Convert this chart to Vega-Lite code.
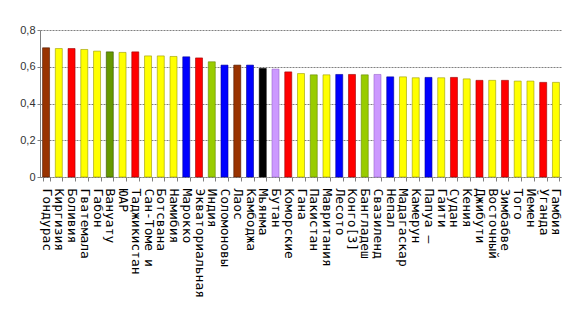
{
  "$schema": "https://vega.github.io/schema/vega-lite/v6.json",
  "width": 522,
  "height": 147,
  "autosize": "none",
  "padding": {"left": 40, "top": 30, "right": 26, "bottom": 149},
  "background": "white",
  "config": {"view": {"stroke": null}},
  "data": {"values": [
    {"country": "Гондурас", "value": 0.703, "group": "A"},
    {"country": "Киргизия", "value": 0.699, "group": "B"},
    {"country": "Боливия", "value": 0.699, "group": "C"},
    {"country": "Гватемала", "value": 0.694, "group": "B"},
    {"country": "Габон", "value": 0.685, "group": "B"},
    {"country": "Вануату", "value": 0.681, "group": "D"},
    {"country": "ЮАР", "value": 0.678, "group": "B"},
    {"country": "Таджикистан", "value": 0.681, "group": "C"},
    {"country": "Сан-Томе и", "value": 0.659, "group": "B"},
    {"country": "Ботсвана", "value": 0.659, "group": "B"},
    {"country": "Намибия", "value": 0.656, "group": "B"},
    {"country": "Марокко", "value": 0.654, "group": "E"},
    {"country": "Экваториальная", "value": 0.648, "group": "C"},
    {"country": "Индия", "value": 0.627, "group": "F"},
    {"country": "Соломоновы", "value": 0.609, "group": "E"},
    {"country": "Лаос", "value": 0.609, "group": "A"},
    {"country": "Камбоджа", "value": 0.609, "group": "E"},
    {"country": "Мьянма", "value": 0.591, "group": "G"},
    {"country": "Бутан", "value": 0.587, "group": "H"},
    {"country": "Коморские", "value": 0.572, "group": "C"},
    {"country": "Гана", "value": 0.563, "group": "B"},
    {"country": "Пакистан", "value": 0.556, "group": "F"},
    {"country": "Мавритания", "value": 0.556, "group": "B"},
    {"country": "Лесото", "value": 0.558, "group": "E"},
    {"country": "Конго[3]", "value": 0.558, "group": "C"},
    {"country": "Бангладеш", "value": 0.556, "group": "F"},
    {"country": "Свазиленд", "value": 0.558, "group": "H"},
    {"country": "Непал", "value": 0.545, "group": "E"},
    {"country": "Мадагаскар", "value": 0.545, "group": "B"},
    {"country": "Камерун", "value": 0.540, "group": "B"},
    {"country": "Папуа —", "value": 0.542, "group": "E"},
    {"country": "Гаити", "value": 0.540, "group": "B"},
    {"country": "Судан", "value": 0.542, "group": "C"},
    {"country": "Кения", "value": 0.534, "group": "B"},
    {"country": "Джибути", "value": 0.526, "group": "C"},
    {"country": "Восточный", "value": 0.526, "group": "B"},
    {"country": "Зимбабве", "value": 0.526, "group": "C"},
    {"country": "Того", "value": 0.522, "group": "B"},
    {"country": "Йемен", "value": 0.522, "group": "B"},
    {"country": "Уганда", "value": 0.515, "group": "C"},
    {"country": "Гамбия", "value": 0.515, "group": "B"}
  ]},
  "mark": {"type": "bar", "width": 7, "strokeWidth": 0.6},
  "encoding": {
    "x": {
      "field": "country",
      "type": "nominal",
      "sort": null,
      "scale": {"paddingInner": 0.45, "paddingOuter": 0.2},
      "axis": {
        "title": null,
        "labelAngle": 90,
        "labelAlign": "left",
        "labelBaseline": "middle",
        "labelFont": "DejaVu Sans Mono",
        "labelFontSize": 13,
        "labelColor": "#000000",
        "labelPadding": 7,
        "labelOverlap": false,
        "labelLimit": 200,
        "tickBand": "extent",
        "tickSize": 4,
        "tickColor": "#808080",
        "domainColor": "#808080",
        "domainDash": [2, 1]
      }
    },
    "y": {
      "field": "value",
      "type": "quantitative",
      "scale": {"domain": [0, 0.8], "nice": false},
      "axis": {
        "title": null,
        "values": [0, 0.2, 0.4, 0.6, 0.8],
        "labelExpr": "datum.value == 0 ? '0' : replace(format(datum.value, '.1f'), '.', ',')",
        "labelFont": "Liberation Sans",
        "labelFontSize": 11,
        "labelColor": "#333333",
        "grid": true,
        "gridColor": "#808080",
        "gridDash": [2, 1],
        "domainColor": "#808080",
        "tickColor": "#808080",
        "tickSize": 3
      }
    },
    "color": {
      "field": "group",
      "type": "nominal",
      "legend": null,
      "scale": {
        "domain": ["A", "B", "C", "D", "E", "F", "G", "H"],
        "range": ["#993300", "#FFFF00", "#FF0000", "#669900", "#0000FF", "#99CC00", "#000000", "#CC99FF"]
      }
    },
    "stroke": {
      "field": "group",
      "type": "nominal",
      "legend": null,
      "scale": {
        "domain": ["A", "B", "C", "D", "E", "F", "G", "H"],
        "range": ["#4d1a00", "#999900", "#990000", "#334d00", "#000099", "#668800", "#000000", "#9966cc"]
      }
    }
  }
}
